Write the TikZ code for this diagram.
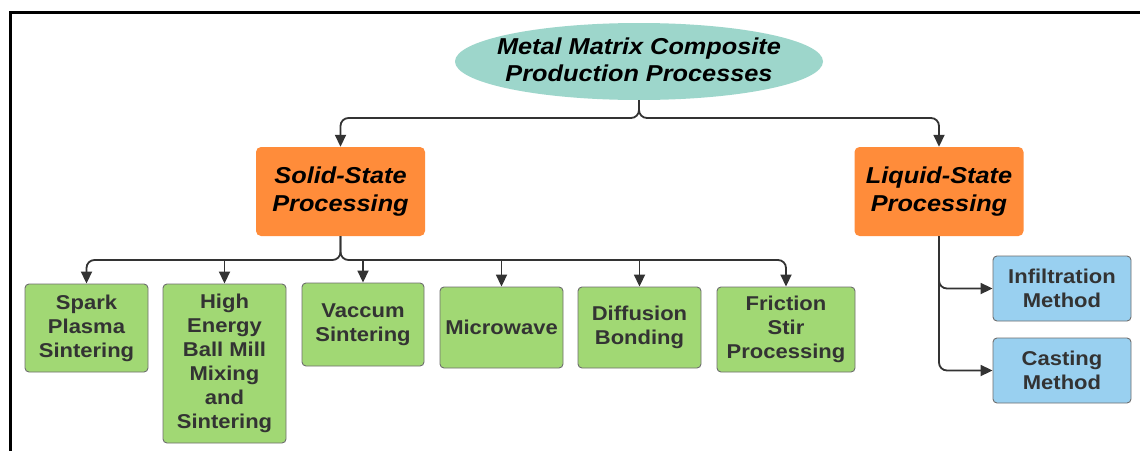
\documentclass[tikz,border=0pt]{standalone}
\usepackage{fontspec}
\setmainfont{Liberation Sans}[FakeStretch=1.1]
\usetikzlibrary{arrows.meta,shapes.geometric}
\definecolor{teal1}{HTML}{9DD6CB}
\definecolor{orange1}{HTML}{FF8C3A}
\definecolor{green1}{HTML}{A1D874}
\definecolor{blue1}{HTML}{99D0F0}
\definecolor{txt}{HTML}{333333}
\definecolor{edge}{HTML}{6E6E6E}
\definecolor{conncol}{HTML}{333333}
\tikzset{
  rootnode/.style={ellipse, fill=teal1, inner sep=0pt, minimum width=368pt, minimum height=77pt},
  roottext/.style={inner sep=0pt, align=center, font=\fontsize{23}{27}\selectfont\bfseries\itshape},
  catbox/.style={rectangle, rounded corners=5pt, fill=orange1, inner sep=0pt, minimum width=169pt, minimum height=89pt, align=center, font=\fontsize{23}{28}\selectfont\bfseries\itshape},
  leafbox/.style={rectangle, rounded corners=4pt, fill=green1, draw=edge, line width=0.9pt, inner sep=0pt, minimum width=123pt, align=center, text=txt, font=\fontsize{20}{24}\selectfont\bfseries},
  bluebox/.style={rectangle, rounded corners=4pt, fill=blue1, draw=edge, line width=0.9pt, inner sep=0pt, minimum width=138pt, minimum height=65pt, align=center, text=txt, font=\fontsize{20}{24}\selectfont\bfseries},
  conn/.style={draw=conncol, line width=1.8pt, rounded corners=8pt, -{Triangle[length=12pt,width=11pt]}},
}
\begin{document}
\begin{tikzpicture}[x=1pt,y=-1pt]
\useasboundingbox (0,0) rectangle (1140,450);
\fill[white] (0,0) rectangle (1140,450);
\draw[line width=3pt] (10,452) -- (10,12) -- (1142,12);

\node[rootnode] (root) at (639,61.5) {};
\node[roottext] (roottxt) at (639,60) {Metal Matrix Composite\\Production Processes};
\node[catbox] (solid) at (340.5,191.5) {Solid-State\\Processing};
\node[catbox] (liquid) at (939,191.5) {Liquid-State\\Processing};

\node[leafbox, minimum height=88pt] (spark) at (86.5,328) {Spark\\Plasma\\Sintering};
\node[leafbox, minimum height=159pt] (high) at (224.5,363.5) {High\\Energy\\Ball Mill\\Mixing\\and\\Sintering};
\node[leafbox, minimum width=122pt, minimum height=83pt] (vac) at (363,324.5) {Vaccum\\Sintering};
\node[leafbox, minimum height=81pt] (micro) at (501.5,327.5) {Microwave};
\node[leafbox, minimum height=81pt] (diff) at (639.5,327.5) {Diffusion\\Bonding};
\node[leafbox, minimum width=138pt, minimum height=85pt] (fric) at (786,329.5) {Friction\\Stir\\Processing};

\node[bluebox] (infil) at (1062,288.5) {Infiltration\\Method};
\node[bluebox] (cast) at (1062,370.5) {Casting\\Method};

% top level
\coordinate (topbus) at (639,118);
\draw[conn] (root.south) -- (topbus) -| (solid.north);
\draw[conn] (root.south) -- (topbus) -| (liquid.north);

% solid state bus
\coordinate (bus) at (340.5,260);
\draw[conn] (solid.south) -- (bus) -| (spark.north);
\draw[conn] (solid.south) -- (bus) -| (fric.north);
\draw[conn, rounded corners=0pt] (bus -| high.north) -- (high.north);
\draw[conn, rounded corners=0pt] (bus -| vac.north) -- (vac.north);
\draw[conn, rounded corners=0pt] (bus -| micro.north) -- (micro.north);
\draw[conn, rounded corners=0pt] (bus -| diff.north) -- (diff.north);

% liquid state
\draw[conn] (liquid.south) |- (infil.west);
\draw[conn] (liquid.south) |- (cast.west);
\end{tikzpicture}
\end{document}
